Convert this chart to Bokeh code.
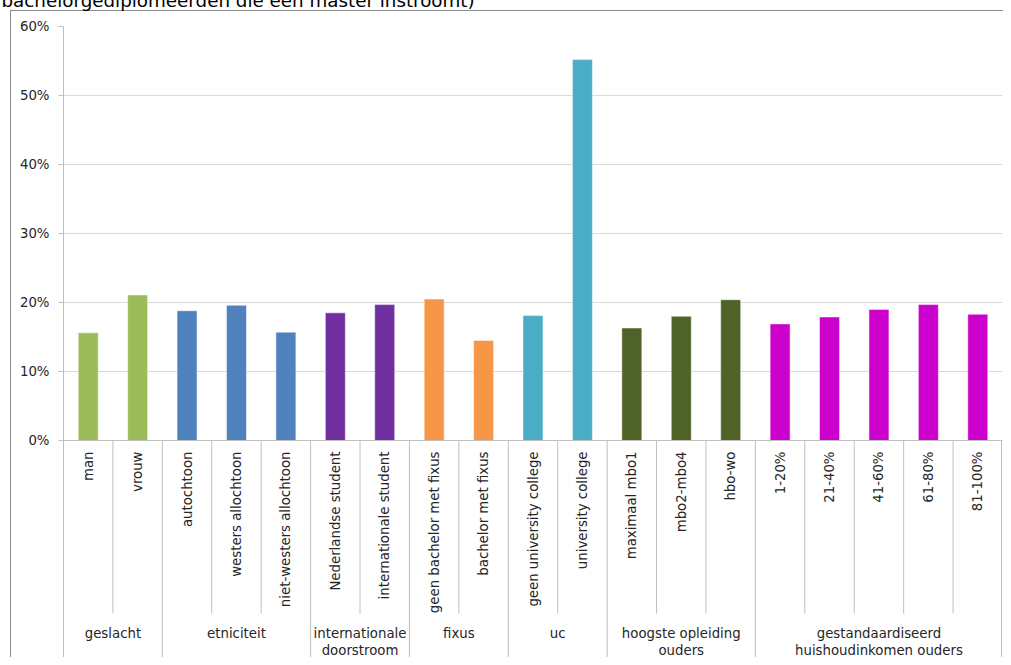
import numpy as np
from bokeh.plotting import figure
from bokeh.models import (FactorRange, Range1d, FixedTicker, NumeralTickFormatter,
                          ColumnDataSource, Label, Span)
from bokeh.embed import file_html
from bokeh.resources import INLINE
from bokeh.core.properties import value

# ---------------- data ----------------
categories = ["man", "vrouw",
              "autochtoon", "westers allochtoon", "niet-westers allochtoon",
              "Nederlandse student", "internationale student",
              "geen bachelor met fixus", "bachelor met fixus",
              "geen university college", "university college",
              "maximaal mbo1", "mbo2-mbo4", "hbo-wo",
              "1-20%", "21-40%", "41-60%", "61-80%", "81-100%"]
values_pct = [15.6, 21.1,
              18.8, 19.6, 15.7,
              18.5, 19.7,
              20.5, 14.5,
              18.1, 55.2,
              16.3, 18.0, 20.4,
              16.9, 17.9, 19.0, 19.7, 18.3]
group_line1 = ["geslacht", "etniciteit", "internationale", "fixus", "uc",
               "hoogste opleiding", "gestandaardiseerd"]
group_line2 = ["", "", "doorstroom", "", "", "ouders", "huishoudinkomen ouders"]
group_sizes = [2, 3, 2, 2, 2, 3, 5]
group_colors = ["#9BBB59", "#4F81BD", "#7030A0", "#F79646", "#4BACC6", "#4F6228", "#CC00CC"]
y_ticks = [0, 0.1, 0.2, 0.3, 0.4, 0.5, 0.6]
title_text = "bachelorgediplomeerden die een master instroomt)"

# ---------------- layout constants ----------------
FONT = "DejaVu Sans"
FS = "13.3px"
TXT = "#262626"
AX = "#BFBFBF"
W, H = 1003, 657
FL, FR, FT = 63, 1, 26
PX_PER_UNIT = 690.0          # pixels per 100 %
Y_TOP = 0.6
Y_BOT = Y_TOP - (H - FT) / PX_PER_UNIT
N = len(categories)
CW = (W - FL - FR) / N       # pixels per category


def ypix(py):
    """figure pixel row -> data y"""
    return Y_TOP - (py - FT) / PX_PER_UNIT


def xpix(px):
    return (px - FL) / CW


p = figure(width=W, height=H,
           x_range=FactorRange(factors=categories, range_padding=0),
           y_range=Range1d(Y_BOT, Y_TOP),
           output_backend="svg", toolbar_location=None, x_axis_location=None,
           min_border_left=FL, min_border_right=FR, min_border_top=FT, min_border_bottom=0)
p.outline_line_color = None
p.background_fill_color = "white"
p.border_fill_color = None
# outer chart-area border (left and top edges; the rest lies outside the picture)
p.styles = {
    "background": ("linear-gradient(#8C8C8C, #8C8C8C) 10px 10px / 1px 100% no-repeat, "
                   "linear-gradient(#8C8C8C, #8C8C8C) 10px 10px / 100% 1px no-repeat, white"),
}

# y axis
p.yaxis.ticker = FixedTicker(ticks=y_ticks)
p.yaxis.formatter = NumeralTickFormatter(format="0%")
p.yaxis.axis_line_color = AX
p.yaxis.major_tick_line_color = AX
p.yaxis.major_tick_out = 5
p.yaxis.major_tick_in = 0
p.yaxis.minor_tick_out = 0
p.yaxis.minor_tick_in = 0
p.yaxis.major_label_standoff = 9
p.yaxis.major_label_text_font = FONT
p.yaxis.major_label_text_font_size = FS
p.yaxis.major_label_text_color = TXT
p.ygrid.ticker = FixedTicker(ticks=y_ticks)
p.ygrid.grid_line_color = "#D9D9D9"
p.xgrid.visible = False

# bars
colors = []
for c, s in zip(group_colors, group_sizes):
    colors += [c] * s
src = ColumnDataSource(dict(cat=categories, val=[v / 100 for v in values_pct], color=colors))
p.vbar(x="cat", top="val", width=20 / CW, fill_color="color", line_color="white",
       line_alpha=0.5, line_width=1, source=src)

p.add_layout(Span(location=0, dimension="width", line_color=AX, line_width=1))

# separators
bounds = np.cumsum([0] + group_sizes)
group_b = set(bounds.tolist())
inner_x, outer_x = [], []
for i in range(1, N + 1):
    xx = i if i < N else N - 0.02
    (outer_x if i in group_b else inner_x).append(xx)
p.segment(x0=inner_x, x1=inner_x, y0=0, y1=ypix(613), line_color=AX, line_width=1)
p.segment(x0=outer_x, x1=outer_x, y0=0, y1=Y_BOT - 0.05, line_color=AX, line_width=1)

# category labels (rotated)
p.text(x=categories, y=[ypix(451)] * N, text=categories, angle=np.pi / 2,
       text_align="right", text_baseline="middle", text_font=value(FONT),
       text_font_size=FS, text_color=TXT)

# group labels
centers = [(bounds[i] + bounds[i + 1]) / 2 for i in range(len(group_sizes))]
p.text(x=centers, y=[ypix(625)] * len(centers), text=group_line1,
       text_align="center", text_baseline="top", text_font=value(FONT),
       text_font_size=FS, text_color=TXT)
p.text(x=centers, y=[ypix(642)] * len(centers), text=group_line2,
       text_align="center", text_baseline="top", text_font=value(FONT),
       text_font_size=FS, text_color=TXT)

# title, cut off at the top edge as in the original
p.add_layout(Label(x=xpix(1), y=FT, x_units="data", y_units="screen",
                   text=title_text, text_font=FONT,
                   text_font_size="18.3px", text_color="#000000",
                   text_baseline="alphabetic"), "above")

open("out.html", "w").write(file_html(p, INLINE))
